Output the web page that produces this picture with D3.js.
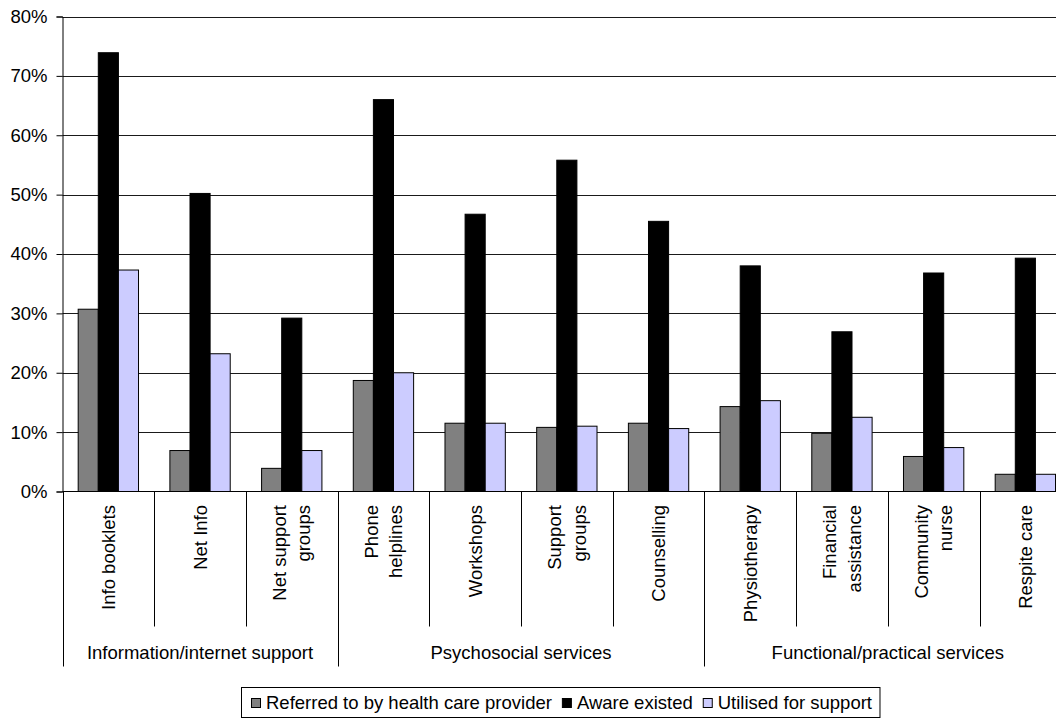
<!DOCTYPE html>
<html>
<head>
<meta charset="utf-8">
<script src="https://cdn.jsdelivr.net/npm/d3@7"></script>
<style>
  html, body { margin: 0; padding: 0; background: #fff; }
  svg { display: block; }
  text { font-family: "Liberation Sans", Arial, sans-serif; fill: #000; }
</style>
</head>
<body>
<svg id="chart" width="1056" height="720"></svg>
<script>
// Support services: share of respondents per service
const categories = [
  ["Info booklets"], ["Net Info"], ["Net support", "groups"],
  ["Phone", "helplines"], ["Workshops"], ["Support", "groups"], ["Counselling"],
  ["Physiotherapy"], ["Financial", "assistance"], ["Community", "nurse"], ["Respite care"]
];
const groups = [
  { name: "Information/internet support", size: 3 },
  { name: "Psychosocial services", size: 4 },
  { name: "Functional/practical services", size: 4 }
];
const seriesNames = ["Referred to by health care provider", "Aware existed", "Utilised for support"];
const seriesColors = ["#808080", "#000000", "#CCCCFF"];

const referred = [30.7, 6.9, 3.9, 18.7, 11.5, 10.8, 11.5, 14.3, 9.8, 5.9, 2.9];
const aware    = [73.9, 50.2, 29.2, 66.0, 46.7, 55.8, 45.5, 38.0, 26.9, 36.8, 39.3];
const utilised = [37.3, 23.2, 6.9, 20.0, 11.5, 11.0, 10.6, 15.3, 12.5, 7.4, 2.9];
const yTicks = [0, 10, 20, 30, 40, 50, 60, 70, 80];

const seriesValues = [referred, aware, utilised];
const FONT = 18.5;

const svg = d3.select("#chart");
const plotLeft = 62.5, plotTop = 16.5, plotBottom = 491.5;
const step = 91.7;
const plotRight = plotLeft + step * categories.length;

const keys = categories.map((c, i) => i);
const x = d3.scaleBand().domain(keys).range([plotLeft, plotRight]).paddingInner(0).paddingOuter(0);
const xs = d3.scaleBand().domain(d3.range(seriesNames.length)).range([0, x.bandwidth()])
  .paddingInner(0).paddingOuter(0.78);
const y = d3.scaleLinear().domain([0, 80]).range([plotBottom, plotTop]);

// horizontal gridlines
svg.append("g").selectAll("line").data(yTicks.filter(t => t > 0)).join("line")
  .attr("x1", plotLeft).attr("x2", 1056)
  .attr("y1", d => Math.round(y(d)) + 0.5).attr("y2", d => Math.round(y(d)) + 0.5)
  .attr("stroke", "#1a1a1a").attr("stroke-width", 1);

// y axis
const yAxis = svg.append("g").attr("transform", `translate(${plotLeft},0)`)
  .call(d3.axisLeft(y).tickValues(yTicks).tickFormat(d => d + "%").tickSize(6).tickPadding(9));
yAxis.select(".domain").attr("stroke", "#000");
yAxis.selectAll(".tick line").attr("stroke", "#000");
yAxis.selectAll(".tick text").attr("font-size", FONT).attr("fill", "#000")
  .style("font-family", '"Liberation Sans", Arial, sans-serif');

// bars
const cat = svg.append("g").selectAll("g").data(keys).join("g")
  .attr("transform", d => `translate(${x(d)},0)`);
cat.selectAll("rect").data(i => seriesValues.map((vals, s) => ({ s, v: vals[i] }))).join("rect")
  .attr("x", d => xs(d.s))
  .attr("width", xs.bandwidth())
  .attr("y", d => y(d.v))
  .attr("height", d => plotBottom - y(d.v))
  .attr("fill", d => seriesColors[d.s])
  .attr("stroke", "#000").attr("stroke-width", 1);

// baseline
svg.append("line").attr("x1", plotLeft).attr("x2", 1056)
  .attr("y1", plotBottom).attr("y2", plotBottom).attr("stroke", "#000");

// category separators and group separators
const catLineEnd = 626.5, groupLineEnd = 666.5;
const boundaries = d3.range(categories.length + 1).map(i => plotLeft + i * step);
const groupStarts = [0];
groups.forEach(g => groupStarts.push(groupStarts[groupStarts.length - 1] + g.size));
svg.append("g").selectAll("line").data(d3.range(categories.length + 1)).join("line")
  .attr("x1", i => Math.round(boundaries[i]) + 0.5).attr("x2", i => Math.round(boundaries[i]) + 0.5)
  .attr("y1", plotBottom)
  .attr("y2", i => groupStarts.includes(i) ? groupLineEnd : catLineEnd)
  .attr("stroke", "#000");

// rotated category labels
const lineH = 24.5;
const labels = svg.append("g").selectAll("text").data(keys).join("text")
  .attr("transform", i => `translate(${x(i) + x.bandwidth() / 2},505) rotate(-90)`)
  .attr("text-anchor", "end")
  .attr("font-size", FONT);
labels.selectAll("tspan").data(i => categories[i].map((t, k, arr) => ({ t, k, n: arr.length }))).join("tspan")
  .attr("x", 0)
  .attr("y", d => (d.k - (d.n - 1) / 2) * lineH)
  .attr("dy", "0.35em")
  .text(d => d.t);

// group labels
svg.append("g").selectAll("text").data(groups).join("text")
  .attr("x", (g, i) => (boundaries[groupStarts[i]] + boundaries[groupStarts[i + 1]]) / 2)
  .attr("y", 652.5).attr("dy", "0.35em")
  .attr("text-anchor", "middle").attr("font-size", FONT)
  .text(g => g.name);

// legend
const legend = svg.append("g");
const box = legend.append("rect").attr("fill", "none").attr("stroke", "#000");
let lx = 251;
seriesNames.forEach((name, s) => {
  legend.append("rect").attr("x", lx + 0.5).attr("y", 698.5).attr("width", 9).attr("height", 9)
    .attr("fill", seriesColors[s]).attr("stroke", "#000");
  const t = legend.append("text").attr("x", lx + 15).attr("y", 709)
    .attr("font-size", FONT).text(name);
  lx = lx + 15 + t.node().getComputedTextLength() + 10;
});
box.attr("x", 241.5).attr("y", 687.5).attr("width", lx - 241.5 - 2).attr("height", 30);
</script>
</body>
</html>
